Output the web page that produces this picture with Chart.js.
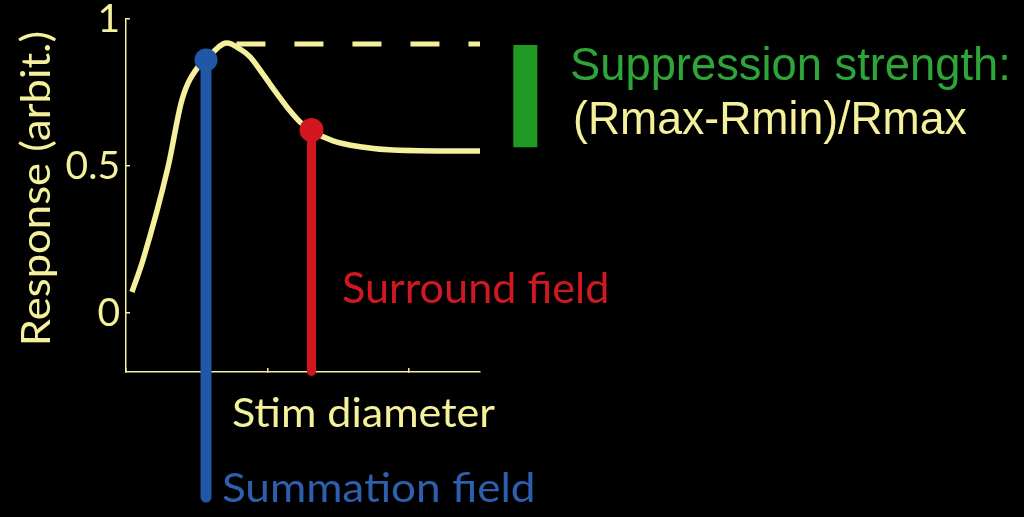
<!DOCTYPE html>
<html>
<head>
<meta charset="utf-8">
<script src="https://cdn.jsdelivr.net/npm/chart.js@4.4.1/dist/chart.umd.min.js"></script>
<style>
  html, body { margin: 0; padding: 0; background: #000; }
  #wrap { width: 1024px; height: 517px; position: relative; }
</style>
</head>
<body>
<div id="wrap"><canvas id="c" width="1024" height="517"></canvas></div>
<script>
// ---- data ----
const curveX = [0.042, 0.120, 0.297, 0.395, 0.508, 0.565, 0.629, 0.685, 0.713, 0.805, 0.876, 0.946, 1.017, 1.088, 1.158, 1.229, 1.314, 1.462, 1.653, 1.886, 2.5];
const curveY = [0.072, 0.181, 0.497, 0.725, 0.837, 0.857, 0.894, 0.915, 0.918, 0.898, 0.871, 0.827, 0.779, 0.732, 0.688, 0.650, 0.620, 0.586, 0.566, 0.555, 0.551];
const rmaxX = [0.78, 2.5];
const rmaxY = [0.915, 0.915];
const summationX = [0.565, 0.565];
const summationY = [-0.625, 0.861];
const surroundX = [1.31, 1.31];
const surroundY = [-0.198, 0.623];
const suppressionX = [2.82, 2.82];
const suppressionY = [0.564, 0.912];
const yTickValues = [0, 0.5, 1];
const xTickValues = [0, 1, 2];
const yRange = [-0.2, 1];
const xRange = [0, 2.5];

// ---- styles ----
const YELLOW = '#f4f09c';
const BLUE = '#2157a7';
const RED = '#d2161f';
const GREEN = '#1f9b25';
const GREEN_TEXT = '#2ea538';
const BLUE_TEXT = '#2d5fae';
const RED_TEXT = '#d01822';

function pts(xs, ys) { return xs.map((x, i) => ({ x: x, y: ys[i] })); }

function drawFitted(ctx, text, family, o) {
  ctx.save();
  ctx.textAlign = 'left';
  ctx.textBaseline = 'alphabetic';
  ctx.font = '100px ' + family;
  const capR = ctx.measureText('H').actualBoundingBoxAscent / 100;
  const size = o.cap / capR;
  ctx.font = size + 'px ' + family;
  const m = ctx.measureText(text);
  const inkW = m.actualBoundingBoxLeft + m.actualBoundingBoxRight;
  const sx = o.length / inkW;
  ctx.translate(o.x, o.y);
  if (o.rotate) ctx.rotate(o.rotate);
  ctx.translate(m.actualBoundingBoxLeft * sx, 0);
  ctx.scale(sx, 1);
  ctx.fillStyle = o.color;
  ctx.fillText(text, 0, 0);
  ctx.restore();
}

const textPlugin = {
  id: 'annotText',
  beforeDraw(chart) {
    const ctx = chart.ctx;
    ctx.save();
    ctx.fillStyle = '#000';
    ctx.fillRect(0, 0, chart.width, chart.height);
    ctx.restore();
  },
  afterDraw(chart) {
    const ctx = chart.ctx;
    drawFitted(ctx, 'Response (arbit.)', 'Lato', { x: 50, y: 343, length: 311, cap: 30, color: YELLOW, rotate: -Math.PI / 2 });
    drawFitted(ctx, 'Stim diameter', 'Lato', { x: 233, y: 427, length: 262, cap: 30, color: YELLOW });
    drawFitted(ctx, 'Surround field', 'Lato', { x: 343, y: 303, length: 264, cap: 30.5, color: RED_TEXT });
    drawFitted(ctx, 'Summation field', 'Lato', { x: 223, y: 502, length: 310, cap: 29, color: BLUE_TEXT });
    drawFitted(ctx, 'Suppression strength:', '"Liberation Sans"', { x: 572, y: 80, length: 435, cap: 32, color: GREEN_TEXT });
    drawFitted(ctx, '(Rmax-Rmin)/Rmax', '"Liberation Sans"', { x: 575, y: 133.5, length: 392, cap: 31.5, color: YELLOW });
  }
};

function build() {
  new Chart(document.getElementById('c'), {
    type: 'line',
    data: {
      datasets: [
        { label: 'Summation field', data: pts(summationX, summationY), borderColor: BLUE, backgroundColor: BLUE,
          borderWidth: 11, borderCapStyle: 'round', pointRadius: [0, 11.5], pointBackgroundColor: BLUE, pointBorderWidth: 0, clip: false },
        { label: 'Surround field', data: pts(surroundX, surroundY), borderColor: RED, backgroundColor: RED,
          borderWidth: 9, borderCapStyle: 'round', pointRadius: [0, 12], pointBackgroundColor: RED, pointBorderWidth: 0, clip: false },
        { label: 'Suppression strength', data: pts(suppressionX, suppressionY), borderColor: GREEN,
          borderWidth: 24, borderCapStyle: 'butt', pointRadius: 0, clip: false },
        { label: 'Rmax', data: pts(rmaxX, rmaxY), borderColor: YELLOW, borderWidth: 5, borderDash: [29, 29],
          borderCapStyle: 'butt', pointRadius: 0 },
        { label: 'Response', data: pts(curveX, curveY), borderColor: YELLOW, borderWidth: 5.5,
          cubicInterpolationMode: 'monotone', pointRadius: 0, borderCapStyle: 'butt' }
      ]
    },
    options: {
      responsive: false,
      animation: false,
      devicePixelRatio: 1,
      events: [],
      layout: { padding: { left: 0, top: 19, right: 544, bottom: 0 } },
      plugins: { legend: { display: false }, tooltip: { enabled: false } },
      scales: {
        x: {
          type: 'linear', min: xRange[0], max: xRange[1],
          afterBuildTicks: s => { s.ticks = xTickValues.map(v => ({ value: v })); },
          afterFit: s => { s.height = 145; s.paddingLeft = 0; s.paddingRight = 0; },
          grid: { display: true, drawOnChartArea: false, drawTicks: true, tickLength: -4, color: YELLOW, lineWidth: 1.5 },
          border: { display: true, color: YELLOW, width: 1.5 },
          ticks: { display: false }
        },
        y: {
          type: 'linear', min: yRange[0], max: yRange[1],
          afterBuildTicks: s => { s.ticks = yTickValues.map(v => ({ value: v })); },
          afterFit: s => { s.width = 126; s.paddingTop = 0; s.paddingBottom = 0; },
          grid: { display: true, drawOnChartArea: false, drawTicks: true, tickLength: -4, color: YELLOW, lineWidth: 1.5 },
          border: { display: true, color: YELLOW, width: 1.5 },
          ticks: { color: YELLOW, font: { family: 'Lato', size: 39, lineHeight: 1 }, padding: 10,
                   callback: v => String(v) }
        }
      }
    },
    plugins: [textPlugin]
  });
}

if (document.fonts && document.fonts.load) {
  Promise.all([document.fonts.load('40px Lato'), document.fonts.load('40px "Liberation Sans"')])
    .then(build, build);
} else { build(); }
</script>
</body>
</html>
